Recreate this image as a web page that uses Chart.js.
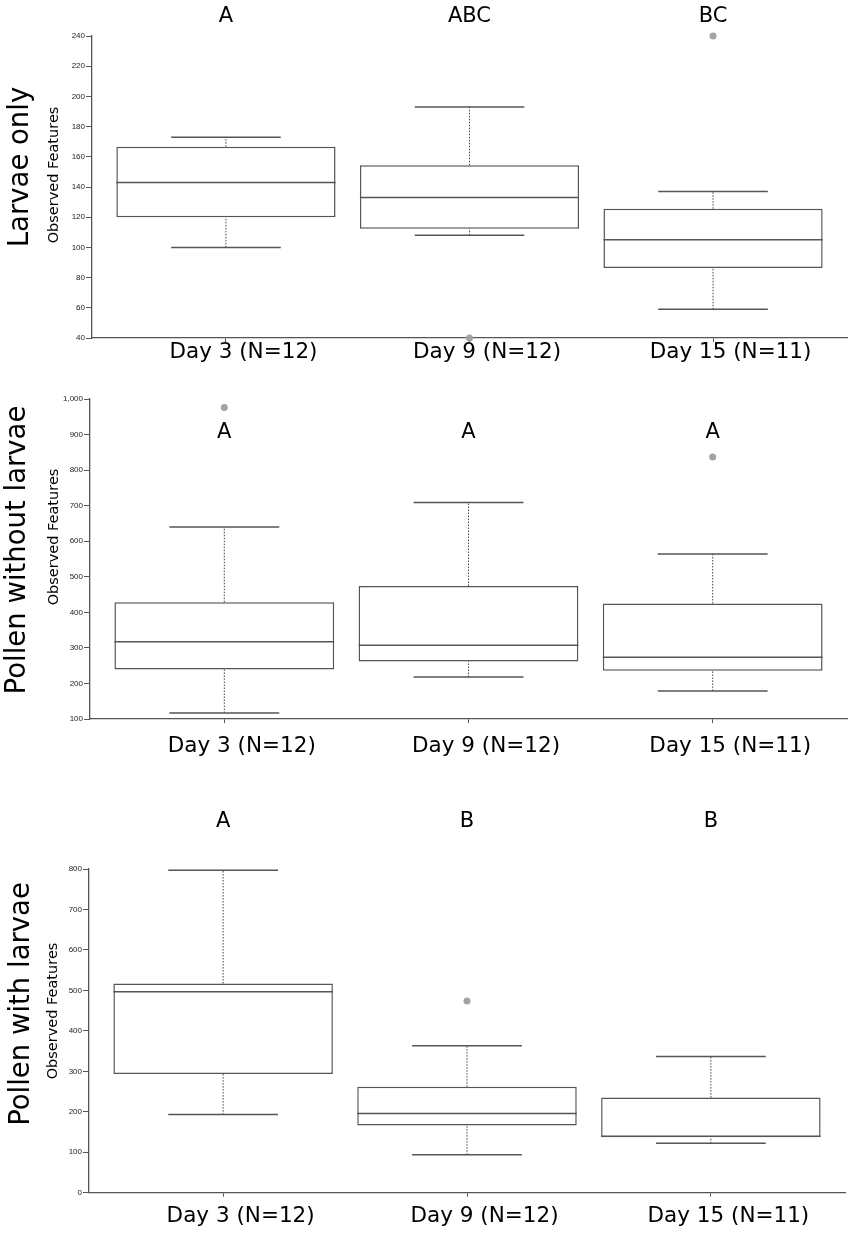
<!DOCTYPE html>
<html>
<head>
<meta charset="utf-8">
<script src="https://cdn.jsdelivr.net/npm/chart.js@4.4.1/dist/chart.umd.min.js"></script>
<style>
  html, body { margin: 0; padding: 0; background: #fff; }
  #wrap { position: relative; width: 851px; height: 1234px; }
  canvas { position: absolute; left: 0; }
</style>
</head>
<body>
<div id="wrap">
  <canvas id="larvae" width="851" height="380" style="top:0"></canvas>
  <canvas id="pollenNo" width="851" height="400" style="top:380px"></canvas>
  <canvas id="pollenWith" width="851" height="454" style="top:780px"></canvas>
</div>
<script>
const categories = ['Day 3 (N=12)', 'Day 9 (N=12)', 'Day 15 (N=11)'];

// Larvae only
const larvaeLow = [100, 108, 59];
const larvaeQ1 = [120, 112.4, 86.4];
const larvaeMedian = [143, 133, 105];
const larvaeQ3 = [166.7, 154.4, 125.6];
const larvaeHigh = [173, 193, 137];
const larvaeOutliers = [[], [40], [240]];
const larvaeLetters = ['A', 'ABC', 'BC'];

// Pollen without larvae
const pollenNoLow = [117, 218, 179];
const pollenNoQ1 = [239, 262, 236];
const pollenNoMedian = [317, 307.5, 274];
const pollenNoQ3 = [428.5, 474, 425];
const pollenNoHigh = [640, 709, 564];
const pollenNoOutliers = [[976], [], [837]];
const pollenNoLetters = ['A', 'A', 'A'];

// Pollen with larvae
const pollenWithLow = [193, 94, 122];
const pollenWithQ1 = [293.6, 166, 137];
const pollenWithMedian = [496.5, 195.5, 139.5];
const pollenWithQ3 = [517, 262, 235];
const pollenWithHigh = [797, 363, 336.5];
const pollenWithOutliers = [[], [473.5], []];
const pollenWithLetters = ['A', 'B', 'B'];

const lineColor = '#555';

// medianas, bigotes y letras encima de las cajas
const boxParts = {
  id: 'boxParts',
  afterDatasetsDraw(chart, args, opts) {
    const ctx = chart.ctx;
    const x = chart.scales.x;
    const y = chart.scales.y;
    const bars = chart.getDatasetMeta(0).data;
    ctx.save();
    opts.low.forEach((lo, i) => {
      const cx = x.getPixelForValue(i);
      const capL = x.getPixelForValue(i - 0.225);
      const capR = x.getPixelForValue(i + 0.225);
      const bar = bars[i];
      const boxL = bar.x - bar.width / 2;
      const boxR = bar.x + bar.width / 2;
      // bigotes punteados
      ctx.strokeStyle = '#444';
      ctx.lineWidth = 1;
      ctx.setLineDash([1.5, 1.5]);
      ctx.beginPath();
      ctx.moveTo(cx, y.getPixelForValue(lo));
      ctx.lineTo(cx, y.getPixelForValue(opts.q1[i]));
      ctx.moveTo(cx, y.getPixelForValue(opts.q3[i]));
      ctx.lineTo(cx, y.getPixelForValue(opts.high[i]));
      ctx.stroke();
      ctx.setLineDash([]);
      // topes y mediana
      ctx.strokeStyle = lineColor;
      ctx.lineWidth = 1.5;
      ctx.beginPath();
      ctx.moveTo(capL, y.getPixelForValue(lo));
      ctx.lineTo(capR, y.getPixelForValue(lo));
      ctx.moveTo(capL, y.getPixelForValue(opts.high[i]));
      ctx.lineTo(capR, y.getPixelForValue(opts.high[i]));
      ctx.moveTo(boxL, y.getPixelForValue(opts.median[i]));
      ctx.lineTo(boxR, y.getPixelForValue(opts.median[i]));
      ctx.stroke();
    });
    // letras
    ctx.fillStyle = '#000';
    ctx.font = '21px "DejaVu Sans"';
    ctx.textAlign = 'center';
    ctx.textBaseline = 'alphabetic';
    opts.letters.forEach((l, i) => {
      ctx.fillText(l, x.getPixelForValue(i), opts.letterY);
    });
    ctx.restore();
  },
  afterDraw(chart, args, opts) {
    const ctx = chart.ctx;
    ctx.save();
    ctx.fillStyle = '#000';
    ctx.textAlign = 'center';
    ctx.textBaseline = 'alphabetic';
    // título del panel
    ctx.save();
    ctx.translate(opts.titleX, opts.titleY);
    ctx.rotate(-Math.PI / 2);
    ctx.font = '27.5px "DejaVu Sans"';
    ctx.fillText(opts.title, 0, 0);
    ctx.restore();
    // título del eje
    ctx.save();
    ctx.translate(opts.axisTitleX, opts.axisTitleY);
    ctx.rotate(-Math.PI / 2);
    ctx.font = '14.5px "DejaVu Sans"';
    ctx.fillText('Observed Features', 0, 0);
    ctx.restore();
    ctx.restore();
  }
};

function makePanel(id, p) {
  const boxes = categories.map((c, i) => ({ x: i, y: [p.q1[i], p.q3[i]] }));
  const points = p.outliers.flatMap((vals, i) => vals.map(v => ({ x: i, y: v })));
  return new Chart(document.getElementById(id), {
    type: 'bar',
    data: {
      datasets: [{
        data: boxes,
        backgroundColor: '#fff',
        borderColor: lineColor,
        borderWidth: 1.5,
        borderSkipped: false,
        barPercentage: 0.9,
        categoryPercentage: 1
      }, {
        type: 'scatter',
        data: points,
        pointRadius: 3.5,
        pointBackgroundColor: '#a3a3a3',
        pointBorderWidth: 0,
        clip: false
      }]
    },
    options: {
      responsive: false,
      animation: false,
      layout: { padding: { top: p.padTop, right: p.padRight, left: 0, bottom: 0 } },
      plugins: {
        legend: { display: false },
        tooltip: { enabled: false },
        boxParts: {
          low: p.low, q1: p.q1, median: p.median, q3: p.q3, high: p.high,
          letters: p.letters, letterY: p.letterY,
          title: p.title, titleX: p.titleX, titleY: p.titleY,
          axisTitleX: p.axisTitleX, axisTitleY: p.axisTitleY
        }
      },
      scales: {
        x: {
          type: 'linear',
          min: -0.55,
          max: 2.55,
          offset: false,
          afterBuildTicks: s => { s.ticks = categories.map((c, i) => ({ value: i })); },
          afterFit: s => { s.height = p.xHeight; },
          grid: { drawOnChartArea: false, offset: false, tickLength: 4, color: lineColor },
          border: { display: true, color: lineColor, width: 1.3 },
          ticks: {
            autoSkip: false,
            maxRotation: 0,
            padding: p.labelPad,
            labelOffset: 17.5,
            color: '#000',
            font: { family: 'DejaVu Sans', size: 21.5, lineHeight: 1 },
            callback: v => categories[v]
          }
        },
        y: {
          min: p.yMin,
          max: p.yMax,
          afterFit: s => { s.width = p.yWidth; },
          grid: { drawOnChartArea: false, tickLength: 6, color: lineColor },
          border: { display: true, color: lineColor, width: 1.3 },
          ticks: {
            stepSize: p.yStep,
            padding: 1,
            color: '#222',
            font: { family: 'Liberation Sans', size: 8 }
          }
        }
      }
    },
    plugins: [boxParts]
  });
}

makePanel('larvae', {
  low: larvaeLow, q1: larvaeQ1, median: larvaeMedian, q3: larvaeQ3, high: larvaeHigh,
  outliers: larvaeOutliers, letters: larvaeLetters,
  yMin: 40, yMax: 240, yStep: 20,
  padTop: 36, padRight: 4, xHeight: 42, yWidth: 92, labelPad: 0, letterY: 22,
  title: 'Larvae only', titleX: 28, titleY: 167, axisTitleX: 58, axisTitleY: 175
});

makePanel('pollenNo', {
  low: pollenNoLow, q1: pollenNoQ1, median: pollenNoMedian, q3: pollenNoQ3, high: pollenNoHigh,
  outliers: pollenNoOutliers, letters: pollenNoLetters,
  yMin: 100, yMax: 1000, yStep: 100,
  padTop: 19, padRight: 4, xHeight: 61, yWidth: 90, labelPad: 12.8, letterY: 58,
  title: 'Pollen without larvae', titleX: 25, titleY: 170, axisTitleX: 58, axisTitleY: 157
});

makePanel('pollenWith', {
  low: pollenWithLow, q1: pollenWithQ1, median: pollenWithMedian, q3: pollenWithQ3, high: pollenWithHigh,
  outliers: pollenWithOutliers, letters: pollenWithLetters,
  yMin: 0, yMax: 800, yStep: 100,
  padTop: 89, padRight: 6, xHeight: 41.3, yWidth: 89, labelPad: 9.4, letterY: 47,
  title: 'Pollen with larvae', titleX: 29, titleY: 224, axisTitleX: 57, axisTitleY: 231
});
</script>
</body>
</html>
